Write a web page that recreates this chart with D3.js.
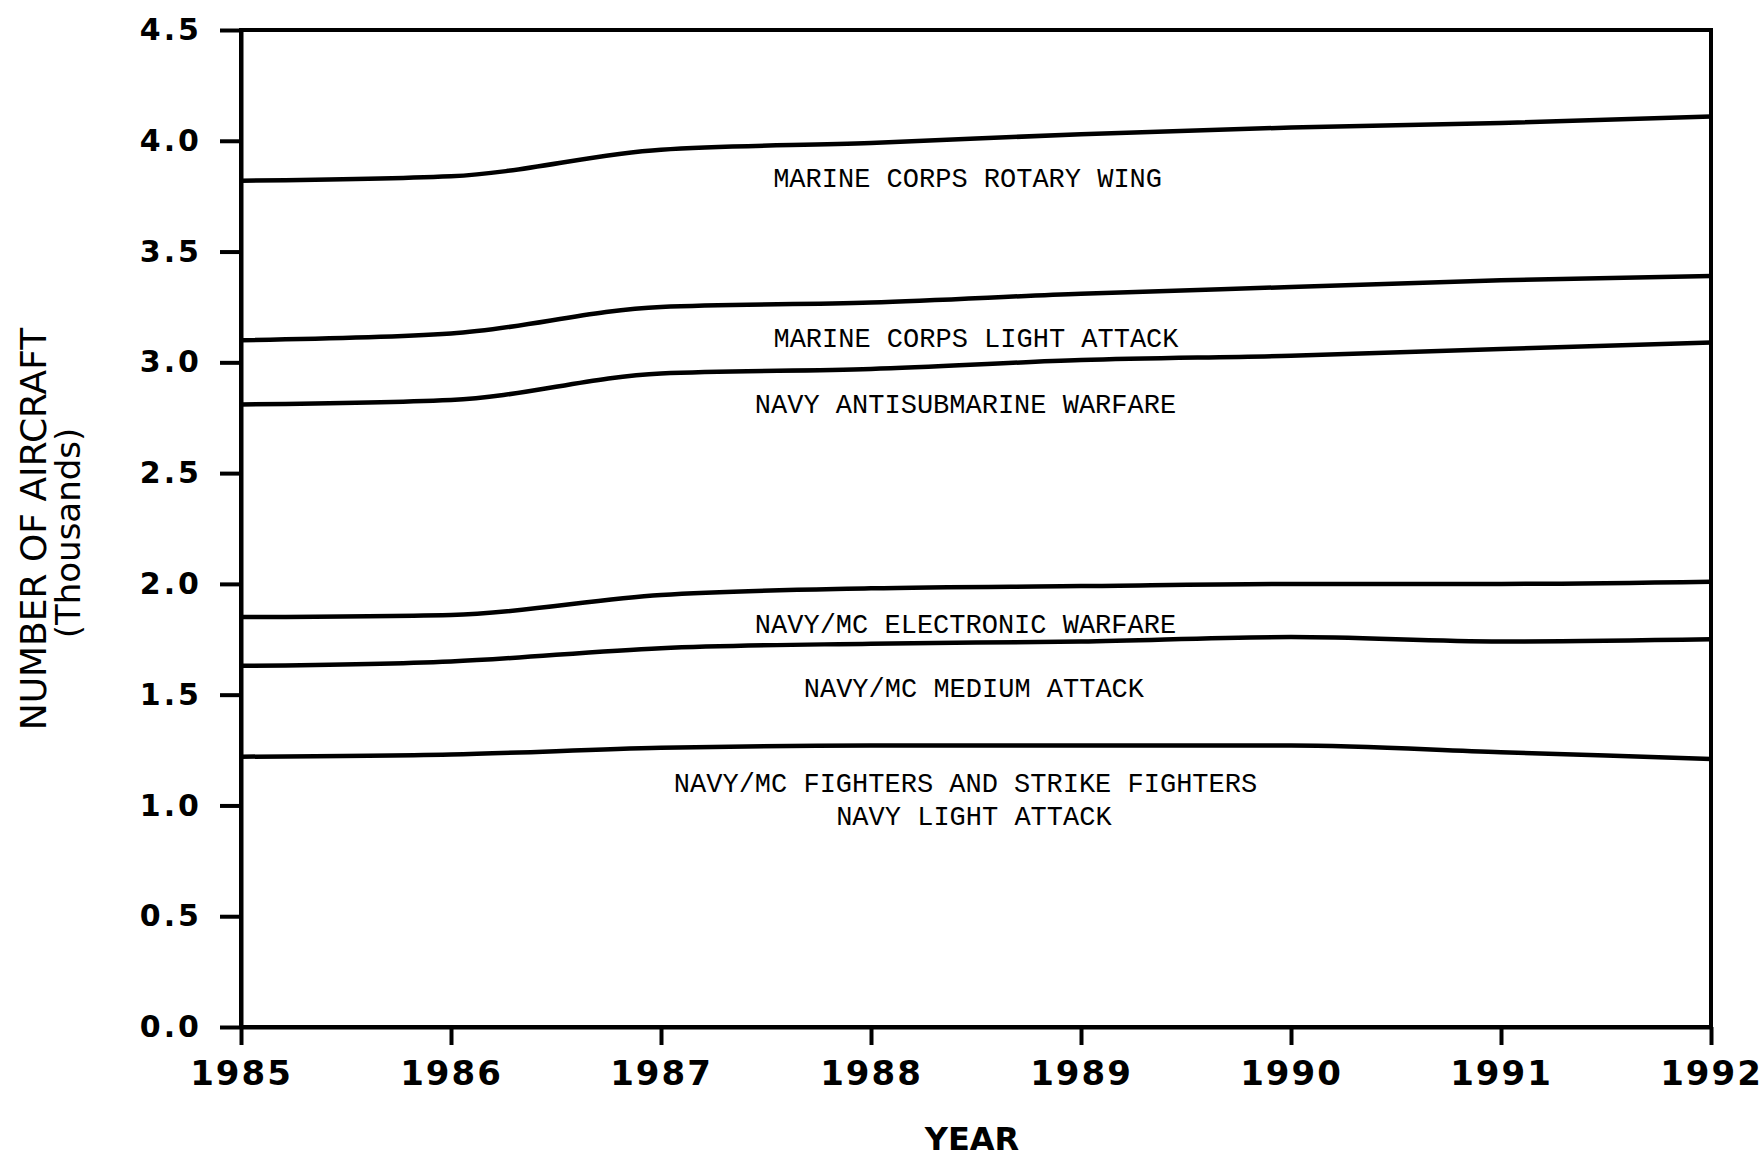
<!DOCTYPE html>
<html>
<head>
<meta charset="utf-8">
<script src="https://cdn.jsdelivr.net/npm/d3@7"></script>
<style>
  body { margin: 0; background: #fff; }
</style>
</head>
<body>
<svg id="main_chart" width="1762" height="1161"></svg>
<script>
// years on the x axis
const years = [1985, 1986, 1987, 1988, 1989, 1990, 1991, 1992];
const yTicks = [0, 0.5, 1.0, 1.5, 2.0, 2.5, 3.0, 3.5, 4.0, 4.5];

// cumulative totals (thousands of aircraft), top of each band
const rotaryWing   = [3.82, 3.84, 3.96, 3.99, 4.03, 4.06, 4.08, 4.11];
const mcLightAtk   = [3.10, 3.13, 3.25, 3.27, 3.31, 3.34, 3.37, 3.39];
const navyAsw      = [2.81, 2.83, 2.95, 2.97, 3.01, 3.03, 3.06, 3.09];
const electronicW  = [1.85, 1.86, 1.95, 1.98, 1.99, 2.00, 2.00, 2.01];
const mediumAtk    = [1.63, 1.65, 1.71, 1.73, 1.74, 1.76, 1.74, 1.75];
const fighters     = [1.22, 1.23, 1.26, 1.27, 1.27, 1.27, 1.24, 1.21];

const series = [rotaryWing, mcLightAtk, navyAsw, electronicW, mediumAtk, fighters];

// band labels: text, year (centre), value (baseline)
const labelText = [
    "MARINE CORPS ROTARY WING",
    "MARINE CORPS LIGHT ATTACK",
    "NAVY ANTISUBMARINE WARFARE",
    "NAVY/MC ELECTRONIC WARFARE",
    "NAVY/MC MEDIUM ATTACK",
    "NAVY/MC FIGHTERS AND STRIKE FIGHTERS",
    "NAVY LIGHT ATTACK"
];
const labelYear  = [1988.46, 1988.50, 1988.45, 1988.45, 1988.49, 1988.45, 1988.49];
const labelValue = [3.79, 3.07, 2.77, 1.78, 1.49, 1.06, 0.91];

let svg = d3.select('#main_chart');

let xScale = d3.scaleLinear()
    .domain([1985, 1992])
    .range([241, 1711]);

let yScale = d3.scaleLinear()
    .domain([0, 4.5])
    .range([1027, 30]);

const tickFont = "'DejaVu Sans', sans-serif";

// frame (top and right edges)
svg.append('rect')
    .attr('x', xScale(1985))
    .attr('y', yScale(4.5))
    .attr('width', xScale(1992) - xScale(1985))
    .attr('height', yScale(0) - yScale(4.5))
    .attr('fill', 'none')
    .attr('stroke', '#000')
    .attr('stroke-width', 4);

// y axis
let yAxis = svg.append('g')
    .attr('transform', 'translate(' + xScale(1985) + ',0)')
    .call(d3.axisLeft(yScale)
        .tickValues(yTicks)
        .tickSize(21)
        .tickSizeOuter(0)
        .tickPadding(18)
        .tickFormat(d3.format('.1f')));
yAxis.selectAll('line, path').attr('stroke', '#000').attr('stroke-width', 4);
yAxis.selectAll('text')
    .attr('fill', '#000')
    .style('font-family', tickFont)
    .style('font-weight', 'bold')
    .style('font-size', '30px')
    .style('letter-spacing', '3px');

// x axis
let xAxis = svg.append('g')
    .attr('transform', 'translate(0,' + yScale(0) + ')')
    .call(d3.axisBottom(xScale)
        .tickValues(years)
        .tickSize(18)
        .tickSizeOuter(0)
        .tickPadding(16)
        .tickFormat(d3.format('d')));
xAxis.selectAll('line, path').attr('stroke', '#000').attr('stroke-width', 4);
xAxis.selectAll('text')
    .attr('fill', '#000')
    .style('font-family', tickFont)
    .style('font-weight', 'bold')
    .style('font-size', '34px')
    .style('letter-spacing', '2px');

// band boundary lines
let line = d3.line()
    .x((d, i) => xScale(years[i]))
    .y(d => yScale(d))
    .curve(d3.curveMonotoneX);

svg.append('g').selectAll('path')
    .data(series)
    .enter().append('path')
    .attr('d', line)
    .attr('fill', 'none')
    .attr('stroke', '#000')
    .attr('stroke-width', 4.5);

// band labels
svg.append('g').selectAll('text')
    .data(labelText)
    .enter().append('text')
    .attr('x', (d, i) => xScale(labelYear[i]))
    .attr('y', (d, i) => yScale(labelValue[i]))
    .attr('text-anchor', 'middle')
    .style('font-family', "'Liberation Mono', 'Courier New', monospace")
    .style('font-size', '27px')
    .attr('fill', '#000')
    .text(d => d);

// axis titles
svg.append('text')
    .attr('transform', 'translate(46,529) rotate(-90)')
    .attr('text-anchor', 'middle')
    .style('font-family', tickFont)
    .style('font-size', '36px')
    .attr('fill', '#000')
    .text('NUMBER OF AIRCRAFT');

svg.append('text')
    .attr('transform', 'translate(80,533) rotate(-90)')
    .attr('text-anchor', 'middle')
    .style('font-family', tickFont)
    .style('font-size', '34px')
    .attr('fill', '#000')
    .text('(Thousands)');

svg.append('text')
    .attr('x', 972)
    .attr('y', 1150)
    .attr('text-anchor', 'middle')
    .style('font-family', tickFont)
    .style('font-weight', 'bold')
    .style('font-size', '32px')
    .attr('fill', '#000')
    .text('YEAR');
</script>
</body>
</html>
